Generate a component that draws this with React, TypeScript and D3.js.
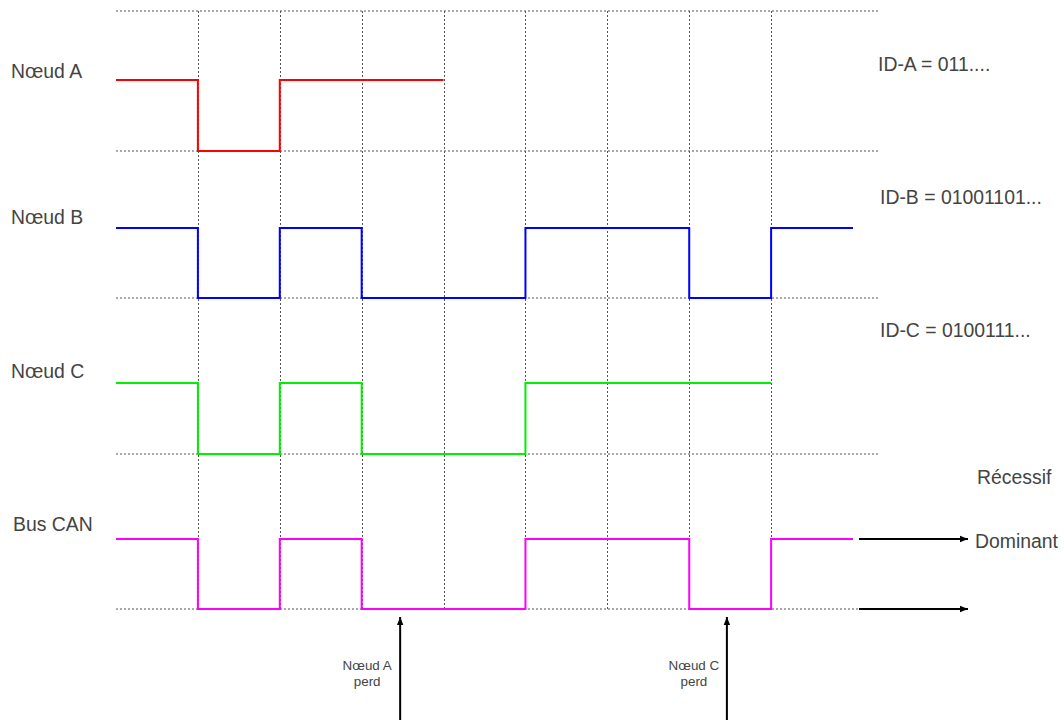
import React from "react";
import * as d3 from "d3";

const rowNames = ["Nœud A", "Nœud B", "Nœud C", "Bus CAN"];
const rowColors = ["#ff0000", "#0000ff", "#00f000", "#ff00ff"];
const bitsA = [1, 0, 1, 1];
const bitsB = [1, 0, 1, 0, 0, 1, 1, 0, 1];
const bitsC = [1, 0, 1, 0, 0, 1, 1, 1];
const bitsBus = [1, 0, 1, 0, 0, 1, 1, 0, 1];
const rowBits = [bitsA, bitsB, bitsC, bitsBus];
const idLabels = ["ID-A = 011....", "ID-B = 01001101...", "ID-C = 0100111..."];
const lossBits = [3.47, 7.46];
const lossLabels = [["Nœud A", "perd"], ["Nœud C", "perd"]];
const levelLabels = ["Récessif", "Dominant"];

const W = 1064;
const H = 720;
const nBits = 9;
const rowLow = [151, 298, 454, 609];
const rowHigh = [80, 228, 383, 539];
const gridTop = 11;
const gridRight = 880;
const txt = "#444";
const font = "'Liberation Sans', Arial, sans-serif";

export default function App() {
  const x = d3.scaleLinear().domain([0, nBits]).range([116, 853]);
  const ys = rowLow.map((lo, i) => d3.scaleLinear().domain([0, 1]).range([lo, rowHigh[i]]));
  const gridYs = [gridTop, ...rowLow];
  const vTicks = d3.range(1, nBits);

  return (
    <svg width={W} height={H} style={{ position: "absolute", left: 0, top: 0, background: "#fff" }} fontFamily={font}>
      <defs>
        <marker id="ah" viewBox="0 0 10 10" refX="10" refY="5" markerWidth="10" markerHeight="8" markerUnits="userSpaceOnUse" orient="auto">
          <path d="M0,1 L10,5 L0,9 z" fill="#000" />
        </marker>
      </defs>
      {gridYs.map((gy, i) => (
        <line key={"h" + i} x1={x(0)} x2={i === gridYs.length - 1 ? 858 : gridRight} y1={gy} y2={gy}
          stroke="#555" strokeWidth={1} strokeDasharray="2,2" />
      ))}
      {vTicks.map((t) => (
        <line key={"v" + t} x1={Math.round(x(t)) + 0.5} x2={Math.round(x(t)) + 0.5} y1={gridTop} y2={rowLow[3]}
          stroke="#555" strokeWidth={1} strokeDasharray="2,2" />
      ))}
      {rowBits.map((bits, r) => {
        const pts: [number, number][] = bits.map((b, i) => [i, b] as [number, number]);
        pts.push([bits.length, bits[bits.length - 1]]);
        const line = d3.line<[number, number]>()
          .x((d) => x(d[0]))
          .y((d) => ys[r](d[1]))
          .curve(d3.curveStepAfter);
        return <path key={"s" + r} d={line(pts) || ""} fill="none" stroke={rowColors[r]} strokeWidth={2} />;
      })}
      {rowNames.map((n, i) => (
        <text key={"n" + i} x={i === 3 ? 13 : 11} y={[78, 224, 378, 531][i]} fontSize={19.4} fill={txt}>{n}</text>
      ))}
      {idLabels.map((l, i) => (
        <text key={"id" + i} x={i === 0 ? 878 : 880} y={[71, 204, 337][i]} fontSize={19.4} fill={txt}>{l}</text>
      ))}
      <line x1={859} x2={968} y1={rowHigh[3]} y2={rowHigh[3]} stroke="#000" strokeWidth={2} markerEnd="url(#ah)" />
      <line x1={859} x2={968} y1={rowLow[3]} y2={rowLow[3]} stroke="#000" strokeWidth={2} markerEnd="url(#ah)" />
      <text x={977} y={484} fontSize={19.4} fill={txt}>{levelLabels[0]}</text>
      <text x={975} y={548} fontSize={19.4} fill={txt}>{levelLabels[1]}</text>
      {lossBits.map((b, i) => (
        <g key={"l" + i}>
          <line x1={x(b)} x2={x(b)} y1={H} y2={617} stroke="#000" strokeWidth={2} markerEnd="url(#ah)" />
          <text x={x(b) - 33} y={670} fontSize={13.4} fill={txt} textAnchor="middle">{lossLabels[i][0]}</text>
          <text x={x(b) - 33} y={686} fontSize={13.4} fill={txt} textAnchor="middle">{lossLabels[i][1]}</text>
        </g>
      ))}
    </svg>
  );
}
